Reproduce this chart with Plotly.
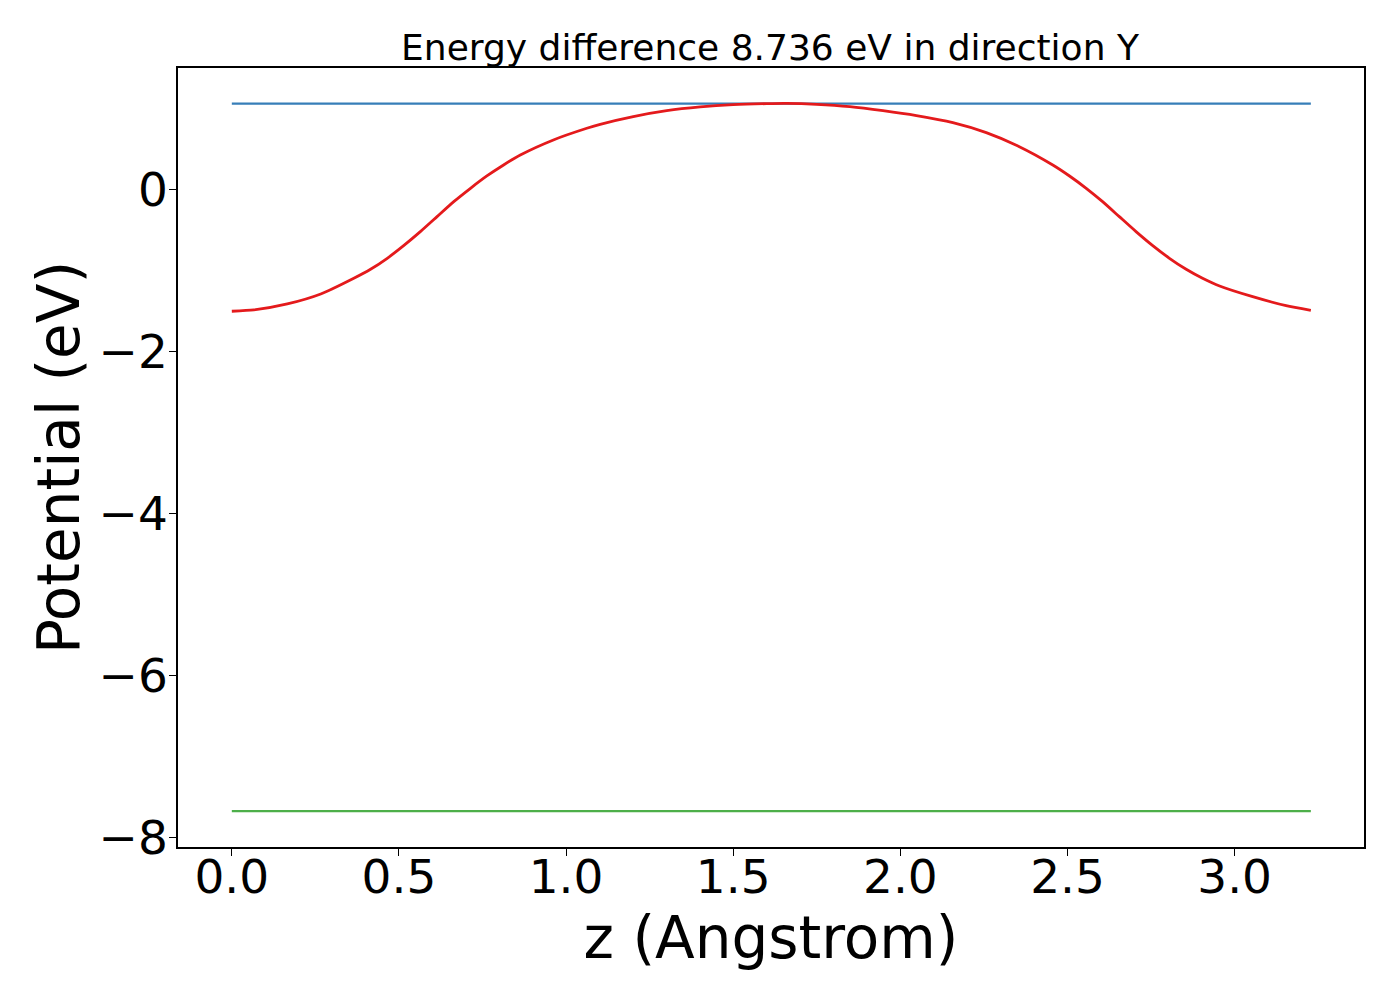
import plotly.graph_objects as go

# planar-averaged potential along z
z_ang = [0.000, 0.066, 0.166, 0.266, 0.365, 0.415, 0.465, 0.514, 0.564, 0.614,
         0.664, 0.714, 0.763, 0.813, 0.863, 0.962, 1.062, 1.102, 1.201, 1.301,
         1.401, 1.500, 1.600, 1.659, 1.749, 1.849, 1.948, 2.048, 2.157, 2.257,
         2.356, 2.456, 2.506, 2.556, 2.605, 2.655, 2.705, 2.755, 2.805, 2.855,
         2.904, 2.955, 3.054, 3.154, 3.228]
potential_ev = [-1.506, -1.490, -1.416, -1.293, -1.099, -0.988, -0.852, -0.696, -0.523, -0.338,
                -0.153, 0.012, 0.164, 0.300, 0.423, 0.609, 0.753, 0.802, 0.897, 0.970,
                1.016, 1.044, 1.057, 1.060, 1.049, 1.020, 0.970, 0.909, 0.822, 0.699,
                0.526, 0.300, 0.164, 0.012, -0.153, -0.338, -0.523, -0.696, -0.852, -0.988,
                -1.099, -1.194, -1.326, -1.437, -1.494]

z_ends = [0.000, 3.228]
vacuum_level = 1.058
energy_diff = 8.736
lower_level = vacuum_level - energy_diff
direction = "Y"

FONT = "DejaVu Sans"

fig = go.Figure()
fig.add_trace(go.Scatter(x=z_ends, y=[vacuum_level, vacuum_level], mode="lines",
                         line=dict(color="#377eb8", width=2.2), showlegend=False))
fig.add_trace(go.Scatter(x=z_ends, y=[lower_level, lower_level], mode="lines",
                         line=dict(color="#4daf4a", width=2.2), showlegend=False))
fig.add_trace(go.Scatter(x=z_ang, y=potential_ev, mode="lines",
                         line=dict(color="#e41a1c", width=2.8, shape="spline", smoothing=0.6),
                         showlegend=False))

axis_common = dict(
    showgrid=False, zeroline=False, showline=True, linecolor="black", linewidth=1.5,
    mirror=True, ticks="outside", ticklen=7, tickwidth=1.2, tickcolor="black",
    tickfont=dict(family=FONT, size=47, color="black"),
)

# page body has an 8px margin, so the figure is a bit smaller than the window
fig.update_layout(
    width=1392, height=992,
    paper_bgcolor="white", plot_bgcolor="white",
    margin=dict(l=170, r=36, t=60, b=153),
    font=dict(family=FONT, color="black"),
    title=dict(text=f"Energy difference {energy_diff:.3f} eV in direction {direction}",
               font=dict(family=FONT, size=36, color="black"),
               x=0.5474, xanchor="center", y=0.9607, yanchor="middle", yref="container"),
    xaxis=dict(axis_common, range=[-0.161, 3.387], tickvals=[0, 0.5, 1, 1.5, 2, 2.5, 3],
               ticktext=["0.0", "0.5", "1.0", "1.5", "2.0", "2.5", "3.0"],
               ticklabelstandoff=-19,
               title=dict(text="z (Angstrom)", font=dict(family=FONT, size=58), standoff=0)),
    yaxis=dict(axis_common, range=[-8.12, 1.497], tickvals=[0, -2, -4, -6, -8],
               ticktext=["0", "\u22122", "\u22124", "\u22126", "\u22128"],
               ticklabelstandoff=-8,
               title=dict(text="Potential (eV)", font=dict(family=FONT, size=58), standoff=0)),
)

fig.write_html("out.html")
